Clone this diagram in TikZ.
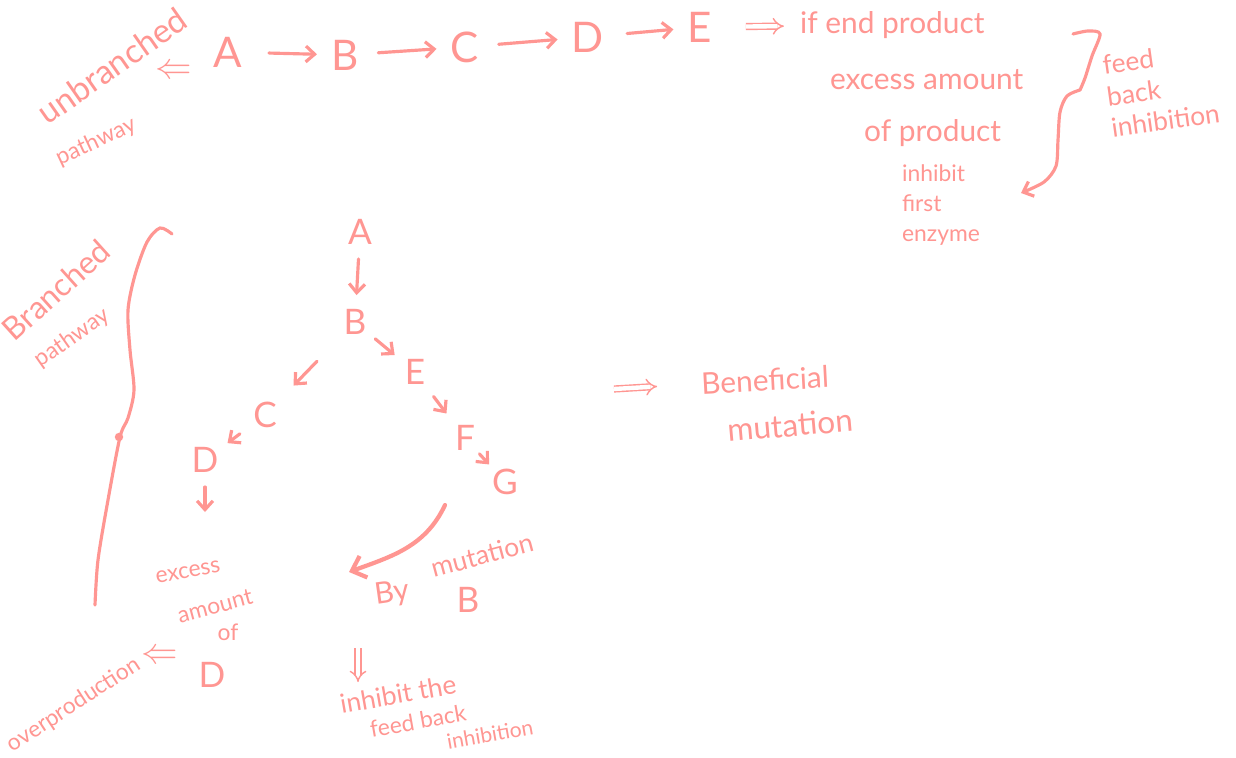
\documentclass[tikz,border=0pt]{standalone}
\usepackage{fontspec}
\setmainfont{Lato}
\usetikzlibrary{arrows.meta,positioning}
\definecolor{ink}{RGB}{255,150,146}

\begin{document}
\begin{tikzpicture}[x=0.02cm, y=-0.02cm, >={Straight Barb[length=5pt,width=9pt]},
  every node/.style={text=ink, inner sep=1pt, font=\fontsize{17}{20}\selectfont},
  letter/.style={font=\fontsize{24}{26}\selectfont},
  tletter/.style={font=\fontsize{20}{22}\selectfont},
  small/.style={font=\fontsize{13}{17}\selectfont},
  arr/.style={draw=ink, line width=1.8pt, ->, line cap=round, shorten <=7pt, shorten >=7pt},
  dbl/.style={draw=ink, line width=0.8pt, double=white, double distance=2.5pt, -{Implies}}]
  \path[use as bounding box, fill=white] (0,0) rectangle (1236,757);

  % unbranched pathway
  \node[rotate=35, font=\fontsize{19}{22}\selectfont] (unbr) at (112,66) {unbranched};
  \node[rotate=25, small] (unpw) at (96,142) {pathway};
  \node[font=\fontsize{20}{22}\selectfont] (unarr) at (174,72) {$\Leftarrow$};
  \node[letter] (uA) at (228,52) {A};
  \node[letter] (uB) at (345,55) {B};
  \node[letter] (uC) at (465,47) {C};
  \node[letter] (uD) at (588,37) {D};
  \node[letter] (uE) at (700,27) {E};
  \draw[arr, shorten <=14pt] (uA) -- (uB);
  \draw[arr, shorten <=10pt] (uB) -- (uC);
  \draw[arr, shorten <=10pt] (uC) -- (uD);
  \draw[arr, shorten <=12pt] (uD) -- (uE);
  \node[anchor=west] (ifend) at (798,25) {if end product};
  \draw[dbl, shorten <=18pt, shorten >=8pt] (uE) -- (ifend);
  \node[anchor=west] (excess) at (828,80) {excess amount};
  \node[anchor=west] (ofprod) at (862,133) {of product};
  \node[small, anchor=west, align=left] (inhfirst) at (900,205) {inhibit\\first\\enzyme};
  \node[rotate=8, align=left, anchor=west, font=\fontsize{15}{18}\selectfont] (fbi) at (1105,97) {feed\\back\\inhibition};
  \draw[ink, line width=1.8pt, line cap=round] plot[smooth] coordinates
    {(1073,34) (1088,31) (1100,34) (1092,56) (1085,78) (1080,90)};
  \draw[ink, line width=1.8pt, line cap=round, ->] plot[smooth] coordinates
    {(1080,90) (1067,96) (1060,112) (1058,140) (1056,166) (1044,182) (1021,193)};

  % branched pathway
  \node[rotate=42, font=\fontsize{18}{20}\selectfont] (brch) at (56,290) {Branched};
  \node[rotate=35, small] (brpw) at (72,338) {pathway};
  \draw[ink, line width=1.8pt, line cap=round] plot[smooth] coordinates
    {(172,234) (160,228) (147,242) (135,275) (128,310) (130,350) (134,390) (128,418) (120,437) (108,500) (98,560) (95,605)};
  \fill[ink] (119,437) circle (2.4pt);
  \node[tletter] (bA) at (360,232) {A};
  \node[tletter] (bB) at (355,322) {B};
  \node[tletter] (bE) at (415,372) {E};
  \node[tletter] (bF) at (465,438) {F};
  \node[tletter] (bG) at (505,482) {G};
  \node[tletter] (bC) at (265,415) {C};
  \node[tletter] (bD) at (205,460) {D};
  \draw[arr] (bA) -- (bB);
  \draw[arr, shorten <=5pt, shorten >=6pt] (bB) -- (bE);
  \draw[arr] (bE) -- (bF);
  \draw[arr, shorten <=2pt, shorten >=2pt] (bF) -- (bG);
  \draw[arr, shorten <=20pt, shorten >=12pt] (bB) -- (bC);
  \draw[arr, shorten <=8pt, shorten >=5pt] (bC) -- (bD);
  \coordinate (dDn) at (205,512);
  \draw[arr, shorten >=0pt] (bD) -- (dDn);
  \node[small, rotate=10] (xs1) at (188,572) {excess};
  \node[small, rotate=15] (xs2) at (215,606) {amount};
  \node[small] (xs3) at (228,632) {of};
  \node[tletter] (xs4) at (212,675) {D};
  \node[small, rotate=33] (ovpr) at (74,705) {overproduction};
  \node[font=\fontsize{20}{22}\selectfont] (ovarr) at (160,657) {$\Leftarrow$};

  % mutation
  \coordinate (cS) at (445,505);
  \coordinate (cT) at (349,572);
  \draw[ink, line width=2.4pt, line cap=round, -{Straight Barb[length=7pt,width=13pt]}] (cS) to[out=-115, in=20] (cT);
  \node[rotate=8] (mBy) at (392,594) {By};
  \node[rotate=15, font=\fontsize{15}{18}\selectfont] (mMut) at (482,555) {mutation};
  \node[tletter] (mB) at (468,600) {B};
  \coordinate (dnS) at (358,648);
  \coordinate (dnT) at (358,682);
  \draw[dbl] (dnS) -- (dnT);
  \node[rotate=10, font=\fontsize{15}{18}\selectfont] (inh1) at (398,694) {inhibit the};
  \node[rotate=10, small] (inh2) at (418,721) {feed back};
  \node[rotate=10, font=\fontsize{12}{14}\selectfont] (inh3) at (490,734) {inhibition};

  % beneficial mutation
  \node[rotate=3] (bene) at (765,380) {Beneficial};
  \node[rotate=5, font=\fontsize{18}{20}\selectfont] (bmut) at (790,425) {mutation};
  \coordinate (bm0) at (614,389);
  \draw[dbl, shorten >=24pt] (bm0) -- (bene);
\end{tikzpicture}
\end{document}
